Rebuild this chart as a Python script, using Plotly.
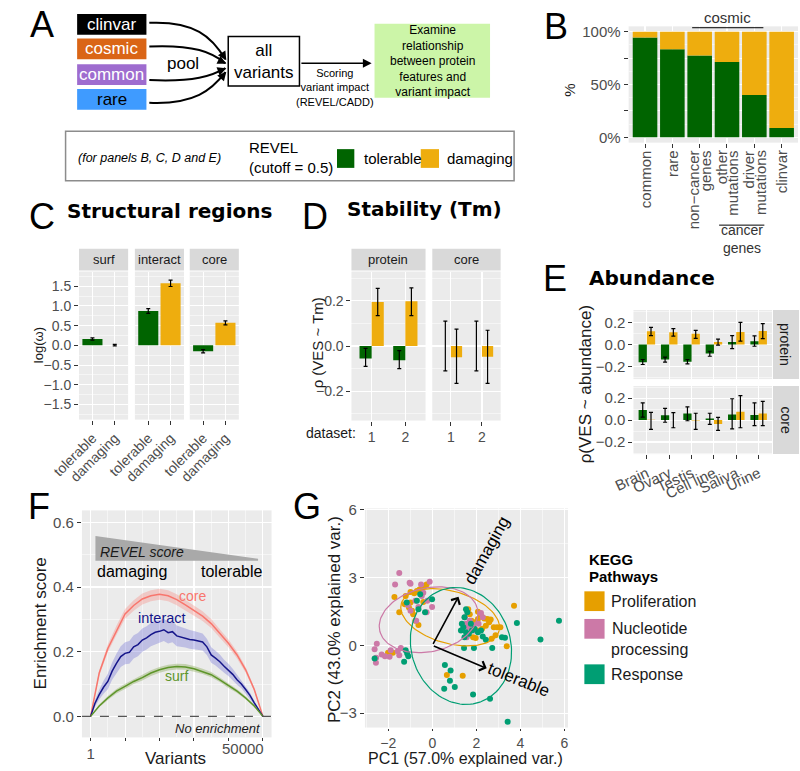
import numpy as np
import plotly.graph_objects as go

W, H = 800, 771
def PX(x): return x / W
def PY(y): return 1 - y / H

FONT = "Liberation Sans, Arial, Helvetica, sans-serif"
BFONT = "DejaVu Sans, Verdana, sans-serif"
GREEN = "#006400"
ORANGE = "#EEAD0E"
PANEL_BG = "#EBEBEB"
STRIP_BG = "#D9D9D9"
TICK_C = "#4D4D4D"
DARK = "#1A1A1A"

# ---------------- data ----------------
# Panel A
a_sources = ["clinvar", "cosmic", "common", "rare"]
a_fill = ["#000000", "#DA6516", "#9E6CCF", "#3F9BFF"]
a_text = ["white", "white", "white", "black"]

# Panel B
b_groups = ["common", "rare", "non-cancer genes", "other mutations", "driver mutations", "clinvar"]
b_labels = ["common", "rare", "non\u2212cancer<br>genes", "other<br>mutations", "driver<br>mutations", "clinvar"]
b_tolerable = [94.4, 83.4, 77.5, 71.3, 40.0, 8.8]

# Panel C
c_classes = ["tolerable", "damaging"]
c_surf = [0.16, 0.005]
c_surf_err = [0.03, 0.02]
c_interact = [0.87, 1.57]
c_interact_err = [0.06, 0.08]
c_core = [-0.15, 0.57]
c_core_err = [0.04, 0.05]

# Panel D
d_datasets = ["1", "2"]
d_prot_tol = [-0.055, -0.063]
d_prot_tol_lo = [-0.09, -0.10]
d_prot_tol_hi = [-0.01, -0.02]
d_prot_dam = [0.195, 0.198]
d_prot_dam_lo = [0.135, 0.135]
d_prot_dam_hi = [0.255, 0.258]
d_core_tol = [0.0, 0.0]
d_core_tol_lo = [-0.11, -0.11]
d_core_tol_hi = [0.11, 0.11]
d_core_dam = [-0.05, -0.047]
d_core_dam_lo = [-0.165, -0.165]
d_core_dam_hi = [0.075, 0.07]

# Panel E
e_tissues = ["Brain", "Ovary", "Testis", "Cell line", "Saliva", "Urine"]
e_prot_tol = [-0.158, -0.134, -0.155, -0.08, 0.024, 0.03]
e_prot_tol_lo = [-0.179, -0.158, -0.173, -0.105, -0.036, -0.015]
e_prot_tol_hi = [-0.134, -0.113, -0.134, -0.06, 0.08, 0.078]
e_prot_dam = [0.119, 0.11, 0.098, 0.024, 0.113, 0.122]
e_prot_dam_lo = [0.08, 0.075, 0.055, -0.005, 0.03, 0.054]
e_prot_dam_hi = [0.155, 0.143, 0.128, 0.048, 0.2, 0.188]
e_core_tol = [0.091, 0.044, 0.059, 0.015, 0.05, 0.047]
e_core_tol_lo = [0.026, -0.02, -0.006, -0.04, -0.08, -0.05]
e_core_tol_hi = [0.156, 0.106, 0.12, 0.062, 0.194, 0.156]
e_core_dam = [0.003, 0.0, -0.005, -0.035, 0.076, 0.059]
e_core_dam_lo = [-0.085, -0.07, -0.085, -0.094, -0.07, -0.05]
e_core_dam_hi = [0.07, 0.068, 0.062, 0.024, 0.223, 0.17]

# Panel F
f_variants = [1, 2500, 5000, 7500, 10000, 12500, 15000, 17500, 20000, 22500, 25000,
              27500, 30000, 32500, 35000, 37500, 40000, 42500, 45000, 47500, 50000]
f_core = [0, 0.134, 0.21, 0.266, 0.317, 0.343, 0.363, 0.373, 0.378, 0.373, 0.361,
          0.345, 0.328, 0.31, 0.287, 0.256, 0.226, 0.19, 0.144, 0.083, 0]
f_core_hw = [0, 0.008, 0.012, 0.014, 0.015, 0.016, 0.017, 0.017, 0.017, 0.017, 0.017,
             0.016, 0.016, 0.015, 0.014, 0.013, 0.012, 0.011, 0.009, 0.006, 0]
f_surf = [0, 0.032, 0.057, 0.078, 0.093, 0.108, 0.12, 0.134, 0.144, 0.151, 0.154,
          0.153, 0.147, 0.139, 0.129, 0.113, 0.095, 0.078, 0.057, 0.032, 0]
f_surf_hw = [0, 0.004, 0.006, 0.007, 0.008, 0.008, 0.009, 0.009, 0.009, 0.009, 0.009,
             0.009, 0.009, 0.008, 0.008, 0.007, 0.007, 0.006, 0.005, 0.003, 0]
f_variants_fine = [1, 1250, 2500, 3750, 5000, 6250, 7500, 8750, 10000, 11250, 12500,
                   13750, 15000, 16250, 17500, 18750, 20000, 21250, 22500, 23750, 25000,
                   26250, 27500, 28750, 30000, 31250, 32500, 33750, 35000, 36250, 37500,
                   38750, 40000, 41250, 42500, 43750, 45000, 46250, 47500, 48750, 50000]
f_interact = [0, 0.04, 0.067, 0.09, 0.108, 0.14, 0.164, 0.185, 0.195, 0.198, 0.215,
              0.222, 0.236, 0.243, 0.253, 0.26, 0.263, 0.268, 0.259, 0.262, 0.249,
              0.245, 0.243, 0.238, 0.236, 0.232, 0.23, 0.215, 0.19, 0.18, 0.169,
              0.155, 0.144, 0.13, 0.113, 0.1, 0.083, 0.065, 0.042, 0.022, 0]
f_interact_hw = [0, 0.01, 0.015, 0.02, 0.024, 0.027, 0.03, 0.032, 0.034, 0.035, 0.036,
                 0.036, 0.036, 0.036, 0.036, 0.036, 0.035, 0.035, 0.034, 0.033, 0.032,
                 0.031, 0.03, 0.029, 0.028, 0.027, 0.026, 0.025, 0.024, 0.023, 0.022,
                 0.02, 0.019, 0.017, 0.015, 0.013, 0.011, 0.009, 0.006, 0.003, 0]
f_tickvals = [1, 10000, 20000, 30000, 40000, 50000]

# Panel G
g_prolif_pc1 = [-1.72, -1.50, -1.25, -1.21, -0.99, -0.82, -0.70, -0.58, -0.48, -0.33, -0.26,
                -0.92, -0.77, -0.63, -0.87, -1.06, -0.41, -0.99, -2.01, -1.79, 0.66, 1.38,
                1.63, 1.70, 1.78, 1.89, 2.07, 2.21, 2.36, 2.50, 2.58, 2.65, 2.43, 2.79,
                2.94, 3.09, 2.87, 2.07, 1.85, 1.63, 1.97, 2.26, 2.69, 3.38, 3.71, 2.07]
g_prolif_pc2 = [2.14, 1.46, 1.82, 2.18, 2.36, 2.30, 2.40, 2.47, 2.55, 2.62, 2.69,
                1.53, 1.09, 0.90, 1.38, 1.67, 1.92, 1.89, -0.33, -0.33, -1.31, -1.35,
                1.60, 1.38, 1.09, 1.02, 1.16, 1.31, 1.19, 1.16, 1.02, 1.14, 0.87, 0.80,
                0.80, 0.80, 0.44, 0.66, 0.36, 0.51, 0.32, 0.73, 0.29, -0.04, 1.75, 1.48]
g_nucl_pc1 = [-1.50, -1.69, -1.03, -0.99, -0.51, -0.12, -0.41, -0.48, -0.77, -1.11, -0.99,
              -0.63, -0.23, -0.01, -0.26, -0.73, -2.52, -2.62, -2.55, -2.56, -2.30, -2.15,
              -1.94, -1.89, -1.57, -1.43, -1.50, 1.48, 1.53, 1.63, 1.85, 1.92, 2.21, 2.29,
              2.10, 1.56, 1.70]
g_nucl_pc2 = [3.20, 2.69, 2.77, 2.72, 2.69, 2.81, 2.33, 2.18, 1.97, 1.78, 1.53,
              1.70, 1.97, 1.70, 1.46, 1.09, 0.07, -0.17, -0.55, -0.77, -0.41, -0.48,
              -0.51, -0.22, -0.26, -0.12, -0.44, 1.24, 0.95, 0.80, 0.90, 0.66, 1.43, 1.24,
              0.95, 0.36, 1.09]
g_resp_pc1 = [-0.70, -0.63, -0.33, -0.01, -0.55, -1.16, -1.21, -1.14, -1.09, -1.28, -2.62,
              0.57, 0.83, 0.80, 1.02, 0.54, 1.53, 1.59, 1.46, 1.34, 1.41, 1.30, 1.53, 1.66,
              1.80, 1.92, 2.07, 2.21, 1.46, 1.44, 1.89, 2.29, 2.43, 2.72, 3.16, 3.30, 3.84,
              4.91, 5.75, 1.85, 2.62, 3.42, 1.75]
g_resp_pc2 = [1.97, 1.60, 1.46, 2.04, 2.26, 1.89, -0.22, -0.36, -0.48, -0.73, -0.58,
              -0.87, -1.12, -1.57, -1.85, -1.92, 1.60, 1.46, 1.24, 0.95, 0.80, 0.66, 0.58, 0.51,
              0.66, 0.73, 0.58, 0.66, 0.36, -0.12, -0.12, 0.39, 0.25, -0.12, 0.36, 0.33, 0.99,
              0.26, 1.09, -2.18, -2.37, -3.38, 0.95]
# ellipses: center x, center y, semi-major, semi-minor, angle (deg)
g_ell_prolif = [0.81, 1.24, 2.30, 1.16, -15]
g_ell_nucl = [-0.17, 1.13, 2.27, 1.41, 12]
g_ell_resp = [1.30, -0.03, 2.63, 2.25, -70]
g_vec_damaging = [1.19, 2.15]
g_vec_tolerable = [2.47, -1.02]
g_pathways = ["Proliferation", "Nucleotide<br>processing", "Response"]
g_colors = ["#E69F00", "#CC79A7", "#009E73"]

# ---------------- helpers ----------------
shapes = []
annotations = []

def rect(x0, y0, x1, y1, fill=None, line=None, lw=0):
    shapes.append(dict(type="rect", xref="paper", yref="paper", x0=PX(x0), x1=PX(x1),
                       y0=PY(y1), y1=PY(y0), fillcolor=fill or "rgba(0,0,0,0)",
                       line=dict(color=line or "rgba(0,0,0,0)", width=lw), layer="above"))

def text(x, y, s, size=14, color=DARK, family=FONT, xanchor="center", yanchor="middle",
         angle=0, align="center"):
    annotations.append(dict(x=PX(x), y=PY(y), xref="paper", yref="paper", text=s,
                            showarrow=False, font=dict(size=size, color=color, family=family),
                            xanchor=xanchor, yanchor=yanchor, textangle=angle, align=align))

def hline(x0, x1, y, color="black", w=1):
    shapes.append(dict(type="line", xref="paper", yref="paper", x0=PX(x0), x1=PX(x1),
                       y0=PY(y), y1=PY(y), line=dict(color=color, width=w)))

def curve(pts, w=2):
    (x0, y0), (x1, y1), (x2, y2), (x3, y3) = pts
    path = (f"M {PX(x0)},{PY(y0)} C {PX(x1)},{PY(y1)} {PX(x2)},{PY(y2)} {PX(x3)},{PY(y3)}")
    shapes.append(dict(type="path", xref="paper", yref="paper", path=path,
                       line=dict(color="black", width=w)))

def arrowhead(x, y, dx, dy, head=2, size=1.1, w=1.6):
    annotations.append(dict(x=PX(x), y=PY(y), xref="paper", yref="paper", ax=dx, ay=dy,
                            text="", showarrow=True, arrowhead=head, arrowsize=size,
                            arrowwidth=w, arrowcolor="black", standoff=0))

def axis(span, horizontal, anchor, **kw):
    d = dict(anchor=anchor, showgrid=True, gridcolor="white", gridwidth=1.1, zeroline=False,
             showline=False, ticks="outside", ticklen=4, tickwidth=1, tickcolor="#333333",
             tickfont=dict(family=FONT, size=14, color=TICK_C), fixedrange=True)
    if horizontal:
        d["domain"] = [PX(span[0]), PX(span[1])]
    else:
        d["domain"] = [PY(span[1]), PY(span[0])]
    d.update(kw)
    return d

def minor(dt):
    return dict(dtick=dt, showgrid=True, gridcolor="white", gridwidth=0.5, ticks="")

def errs(v, lo, hi):
    return dict(type="data", symmetric=False,
                array=[h - a for a, h in zip(v, hi)],
                arrayminus=[a - l for a, l in zip(v, lo)],
                color="black", thickness=1.2, width=2)

def strip_top(x0, x1, y0, y1, label, size=13):
    rect(x0, y0, x1, y1, fill=STRIP_BG)
    text((x0 + x1) / 2, (y0 + y1) / 2, label, size=size, color=DARK)

fig = go.Figure()
layout = {}

# ---------------- Panel A ----------------
text(14, 18, "A", size=36, color="black")
box_y = [(7, 28), (32, 53), (58, 79), (83, 104)]
for (y0, y1), lab, fc, tc in zip(box_y, a_sources, a_fill, a_text):
    rect(50, y0, 122, y1, fill=fc)
    text(86, (y0 + y1) / 2, lab, size=17, color=tc)
curve([(125, 16), (172, 14), (190, 30), (204, 53)])
curve([(125, 40), (172, 38), (190, 46), (204, 57)])
curve([(125, 74), (172, 76), (190, 70), (204, 62)])
curve([(125, 97), (172, 99), (190, 84), (204, 66)])
arrowhead(205, 54, -5, -8)
arrowhead(205, 57.5, -8, -4)
arrowhead(205, 62, -8, 3)
arrowhead(205, 65.5, -6, 7)
text(160, 57, "pool", size=17, color="black")
rect(207, 30, 281, 80, line="black", lw=1.5)
text(244, 55, "all<br>variants", size=17, color="black")
hline(283, 350, 57, w=1.5)
arrowhead(356, 57, -10, 0)
text(318, 82, "Scoring<br>variant impact<br>(REVEL/CADD)", size=11, color="black")
rect(359, 17, 479, 92, fill="#CCF5A8")
text(419, 54.5, "Examine<br>relationship<br>between protein<br>features and<br>variant impact",
     size=12, color="black")

# legend box
rect(38, 126, 504, 176, line="#8C8C8C", lw=1.5)
text(125, 153, "<i>(for panels B, C, D and E)</i>", size=12.5, color="black")
text(226, 152, "REVEL<br>(cutoff = 0.5)", size=15, color="black", xanchor="left", align="left")
rect(320, 144, 338, 163, fill=GREEN)
text(346, 153.5, "tolerable", size=15, color="black", xanchor="left")
rect(407, 144, 426, 163, fill=ORANGE)
text(432, 153.5, "damaging", size=15, color="black", xanchor="left")

# ---------------- Panel B ----------------
text(548, 20, "B", size=36, color="black")
fig.add_trace(go.Bar(x=b_groups, y=b_tolerable, width=0.9, marker=dict(color=GREEN, line=dict(width=0)),
                     xaxis="x", yaxis="y"))
fig.add_trace(go.Bar(x=b_groups, y=[100 - t for t in b_tolerable], base=b_tolerable, width=0.9,
                     marker=dict(color=ORANGE, line=dict(width=0)), xaxis="x", yaxis="y"))
layout["xaxis"] = axis((623, 799), True, "y", type="category", range=[-0.6, 5.6],
                       showticklabels=False)
layout["yaxis"] = axis((19.6, 137.4), False, "x", range=[-5, 105], tickvals=[0, 25, 50, 75, 100],
                       ticktext=["0%", "", "50%", "", "100%"], minor=minor(12.5),
                       tickfont=dict(family=FONT, size=15, color=TICK_C))
# rotated category labels (one text per line so the lines sit close together)
for i, lab in enumerate(b_labels):
    lines = lab.split("<br>")
    for j, ln in enumerate(lines):
        shift = (j - (len(lines) - 1) / 2) * 12
        annotations.append(dict(x=i, y=PY(143), xref="x", yref="paper", text=ln, showarrow=False,
                                textangle=-90, xanchor="center", yanchor="top", xshift=shift,
                                font=dict(size=15, color=TICK_C, family=FONT)))
text(562, 84, "%", size=15, angle=-90)
hline(689, 763, 21)
text(726, 11, "cosmic", size=15, color="#333333")
hline(717, 764, 221)
text(741, 235, "cancer<br>genes", size=14, color="#333333")

# ---------------- Panel C ----------------
text(13, 212, "C", size=36, color="black")
text(146, 207, "<b>Structural regions</b>", size=20, color="black", family=BFONT)
c_panels = [("surf", c_surf, c_surf_err, (52, 103)),
            ("interact", c_interact, c_interact_err, (110, 161)),
            ("core", c_core, c_core_err, (167, 218))]
for i, (name, vals, err, (x0, x1)) in enumerate(c_panels):
    n = i + 2
    fig.add_trace(go.Bar(x=c_classes, y=vals, width=0.9,
                         marker=dict(color=[GREEN, ORANGE], line=dict(width=0)),
                         error_y=dict(type="data", array=err, color="black", thickness=1.2, width=2),
                         xaxis=f"x{n}", yaxis=f"y{n}"))
    layout[f"xaxis{n}"] = axis((x0, x1), True, f"y{n}", type="category", range=[-0.6, 1.6],
                               tickangle=-45)
    layout[f"yaxis{n}"] = axis((268, 418), False, f"x{n}", range=[-1.88, 1.87], dtick=0.5,
                               tick0=0, tickformat=".1f", minor=minor(0.25),
                               showticklabels=(i == 0), ticks="outside" if i == 0 else "")
    strip_top(x0, x1, 245, 267, name)
text(10, 343, "log(\u03c9)", size=13, angle=-90)

# ---------------- Panel D ----------------
text(297, 212, "D", size=36, color="black")
text(411, 205, "<b>Stability (Tm)</b>", size=20, color="black", family=BFONT)
d_panels = [("protein", (335, 412), d_prot_tol, d_prot_tol_lo, d_prot_tol_hi,
             d_prot_dam, d_prot_dam_lo, d_prot_dam_hi),
            ("core", (419, 490), d_core_tol, d_core_tol_lo, d_core_tol_hi,
             d_core_dam, d_core_dam_lo, d_core_dam_hi)]
for i, (name, (x0, x1), t, tl, th, dm, dl, dh) in enumerate(d_panels):
    n = i + 5
    fig.add_trace(go.Bar(x=d_datasets, y=t, width=0.36, offset=-0.36,
                         marker=dict(color=GREEN, line=dict(width=0)), error_y=errs(t, tl, th),
                         xaxis=f"x{n}", yaxis=f"y{n}"))
    fig.add_trace(go.Bar(x=d_datasets, y=dm, width=0.36, offset=0,
                         marker=dict(color=ORANGE, line=dict(width=0)), error_y=errs(dm, dl, dh),
                         xaxis=f"x{n}", yaxis=f"y{n}"))
    layout[f"xaxis{n}"] = axis((x0, x1), True, f"y{n}", type="category", range=[-0.6, 1.6])
    layout[f"yaxis{n}"] = axis((268, 419), False, f"x{n}", range=[-0.33, 0.33], dtick=0.2,
                               tick0=0, tickformat=".1f", minor=minor(0.1),
                               showticklabels=(i == 0), ticks="outside" if i == 0 else "")
    strip_top(x0, x1, 245, 267, name)
text(342, 432, "dataset:", size=14, color=DARK, xanchor="right")
text(300, 340, "\u03c1 (VES ~ Tm)", size=15, angle=-90)

# ---------------- Panel E ----------------
text(547, 275, "E", size=36, color="black")
text(647, 275, "<b>Abundance</b>", size=20, color="black", family=BFONT)
e_panels = [("protein", (307, 377), e_prot_tol, e_prot_tol_lo, e_prot_tol_hi,
             e_prot_dam, e_prot_dam_lo, e_prot_dam_hi),
            ("core", (384, 453), e_core_tol, e_core_tol_lo, e_core_tol_hi,
             e_core_dam, e_core_dam_lo, e_core_dam_hi)]
for i, (name, (y0, y1), t, tl, th, dm, dl, dh) in enumerate(e_panels):
    n = i + 7
    fig.add_trace(go.Bar(x=e_tissues, y=t, width=0.37, offset=-0.37,
                         marker=dict(color=GREEN, line=dict(width=0)), error_y=errs(t, tl, th),
                         xaxis=f"x{n}", yaxis=f"y{n}"))
    fig.add_trace(go.Bar(x=e_tissues, y=dm, width=0.37, offset=0,
                         marker=dict(color=ORANGE, line=dict(width=0)), error_y=errs(dm, dl, dh),
                         xaxis=f"x{n}", yaxis=f"y{n}"))
    layout[f"xaxis{n}"] = axis((628, 772), True, f"y{n}", type="category", range=[-0.6, 5.6],
                               tickangle=-25, showticklabels=(i == 1),
                               ticks="outside" if i == 1 else "",
                               tickfont=dict(family=FONT, size=15, color=TICK_C))
    layout[f"yaxis{n}"] = axis((y0, y1), False, f"x{n}", range=[-0.31, 0.31], dtick=0.2,
                               tick0=0, tickformat=".1f", minor=minor(0.1),
                               tickfont=dict(family=FONT, size=15, color=TICK_C))
    rect(773, y0, 800, y1, fill=STRIP_BG)
    text(786, (y0 + y1) / 2, name, size=14, color=DARK, angle=90)
text(578, 382, "\u03c1(VES ~ abundance)", size=17, angle=-90)

# ---------------- Panel F ----------------
text(10, 506, "F", size=36, color="black")
bands = [(f_variants, f_core, f_core_hw, "rgba(248,118,109,0.30)"),
         (f_variants_fine, f_interact, f_interact_hw, "rgba(90,90,210,0.30)"),
         (f_variants, f_surf, f_surf_hw, "rgba(105,150,40,0.30)")]
for xs, ys, hw, col in bands:
    up = [a + b for a, b in zip(ys, hw)]
    lo = [a - b for a, b in zip(ys, hw)]
    fig.add_trace(go.Scatter(x=list(xs) + list(xs)[::-1], y=up + lo[::-1], fill="toself",
                             fillcolor=col, line=dict(width=0), mode="lines",
                             xaxis="x9", yaxis="y9", hoverinfo="skip"))
fig.add_trace(go.Scatter(x=f_variants, y=f_core, mode="lines", line=dict(color="#F8766D", width=1.5),
                         xaxis="x9", yaxis="y9"))
fig.add_trace(go.Scatter(x=f_variants_fine, y=f_interact, mode="lines",
                         line=dict(color="#15158A", width=1.5), xaxis="x9", yaxis="y9"))
fig.add_trace(go.Scatter(x=f_variants, y=f_surf, mode="lines", line=dict(color="#5E952A", width=1.5),
                         xaxis="x9", yaxis="y9"))
layout["xaxis9"] = axis((55, 252), True, "y9", range=[-2513, 52513],
                        tickvals=f_tickvals, ticktext=["1", "", "", "", "", ""],
                        minor=minor(5000), ticklen=3,
                        tickfont=dict(family=FONT, size=15, color=TICK_C))
annotations.append(dict(x=f_tickvals[-1], y=PY(751), xref="x9", yref="paper", text="50000",
                        showarrow=False, xanchor="right", yanchor="middle", xshift=3,
                        font=dict(size=15, color=TICK_C, family=FONT)))
layout["yaxis9"] = axis((510, 740), False, "x9", range=[-0.065, 0.637], dtick=0.2, tick0=0,
                        tickformat=".1f", minor=minor(0.1),
                        tickfont=dict(family=FONT, size=15, color=TICK_C))
shapes.append(dict(type="line", xref="x9 domain", yref="y9", x0=0, x1=1, y0=0, y1=0,
                   line=dict(color="#555555", width=1.2, dash="dash")))
shapes.append(dict(type="path", xref="paper", yref="paper",
                   path=f"M {PX(69)},{PY(536)} L {PX(238)},{PY(559)} L {PX(238)},{PY(561)} L {PX(69)},{PY(561)} Z",
                   fillcolor="#A9A9A9", line=dict(width=0)))
text(72, 552, "<i>REVEL score</i>", size=14, color=DARK, xanchor="left")
text(69, 572, "damaging", size=16, color="black", xanchor="left")
text(244, 572, "tolerable", size=16, color="black", xanchor="right")
text(170, 597, "core", size=14, color="#F8766D")
text(138, 619, "interact", size=14.5, color="#15158A")
text(153, 678, "surf", size=14, color="#5E952A")
text(243, 731, "<i>No enrichment</i>", size=13, color=DARK, xanchor="right")
text(12, 625, "Enrichment score", size=17, angle=-90)
text(152, 761, "Variants", size=17)

# ---------------- Panel G ----------------
text(289, 506, "G", size=36, color="black")
g_sets = [(g_prolif_pc1, g_prolif_pc2, g_ell_prolif, g_colors[0]),
          (g_nucl_pc1, g_nucl_pc2, g_ell_nucl, g_colors[1]),
          (g_resp_pc1, g_resp_pc2, g_ell_resp, g_colors[2])]
for px_, py_, ell, col in g_sets:
    fig.add_trace(go.Scatter(x=px_, y=py_, mode="markers", marker=dict(color=col, size=6),
                             xaxis="x10", yaxis="y10"))
t = np.linspace(0, 2 * np.pi, 120)
for px_, py_, ell, col in g_sets:
    cx, cy, a, b, ang = ell
    th = np.deg2rad(ang)
    ex = cx + a * np.cos(t) * np.cos(th) - b * np.sin(t) * np.sin(th)
    ey = cy + a * np.cos(t) * np.sin(th) + b * np.sin(t) * np.cos(th)
    fig.add_trace(go.Scatter(x=ex, y=ey, mode="lines", line=dict(color=col, width=1.2),
                             xaxis="x10", yaxis="y10"))
for vec in (g_vec_damaging, g_vec_tolerable):
    annotations.append(dict(x=vec[0], y=vec[1], ax=0, ay=0, xref="x10", yref="y10",
                            axref="x10", ayref="y10", text="", showarrow=True, arrowhead=4,
                            arrowsize=1.2, arrowwidth=1.6, arrowcolor="black", standoff=0))
annotations.append(dict(x=2.49, y=4.18, xref="x10", yref="y10", text="damaging", showarrow=False,
                        textangle=-61, font=dict(size=17, color="black", family=FONT)))
annotations.append(dict(x=3.89, y=-1.53, xref="x10", yref="y10", text="tolerable", showarrow=False,
                        textangle=22, font=dict(size=17, color="black", family=FONT)))
layout["xaxis10"] = axis((349, 560), True, "y10", range=[-3.06, 6.16], dtick=2, tick0=0,
                         minor=minor(1), ticklen=2.5, ticklabelstandoff=0,
                         tickfont=dict(family=FONT, size=14, color=TICK_C))
layout["yaxis10"] = axis((508, 730), False, "x10", range=[-3.64, 6.06], dtick=3, tick0=0,
                         minor=minor(1.5), tickfont=dict(family=FONT, size=15, color=TICK_C))
text(318, 621, "PC2 (43.0% explained var.)", size=17, angle=-90)
text(453, 761, "PC1 (57.0% explained var.)", size=16)
text(580, 560, "<b>KEGG</b>", size=15, color="black", xanchor="left")
text(580, 577, "<b>Pathways</b>", size=15, color="black", xanchor="left")
for (y0, y1), lab, col, ty in zip([(592, 612), (620, 640), (666, 686)], g_pathways, g_colors,
                                   [602, 640, 676]):
    rect(577, y0, 598, y1, fill=col)
    text(603, ty, lab, size=16, color=DARK, xanchor="left")

fig.update_layout(width=W, height=H, margin=dict(l=0, r=0, t=0, b=0), paper_bgcolor="white",
                  plot_bgcolor=PANEL_BG, showlegend=False, barmode="overlay",
                  font=dict(family=FONT, color=DARK), shapes=shapes, annotations=annotations,
                  **layout)
# place the figure flush with the page corner (no default body margin), no mode bar
fig.write_html("out.html", config={"displayModeBar": False, "staticPlot": True},
               post_script="document.body.style.margin='0';document.body.style.padding='0';"
                           "document.documentElement.style.overflow='hidden';")
